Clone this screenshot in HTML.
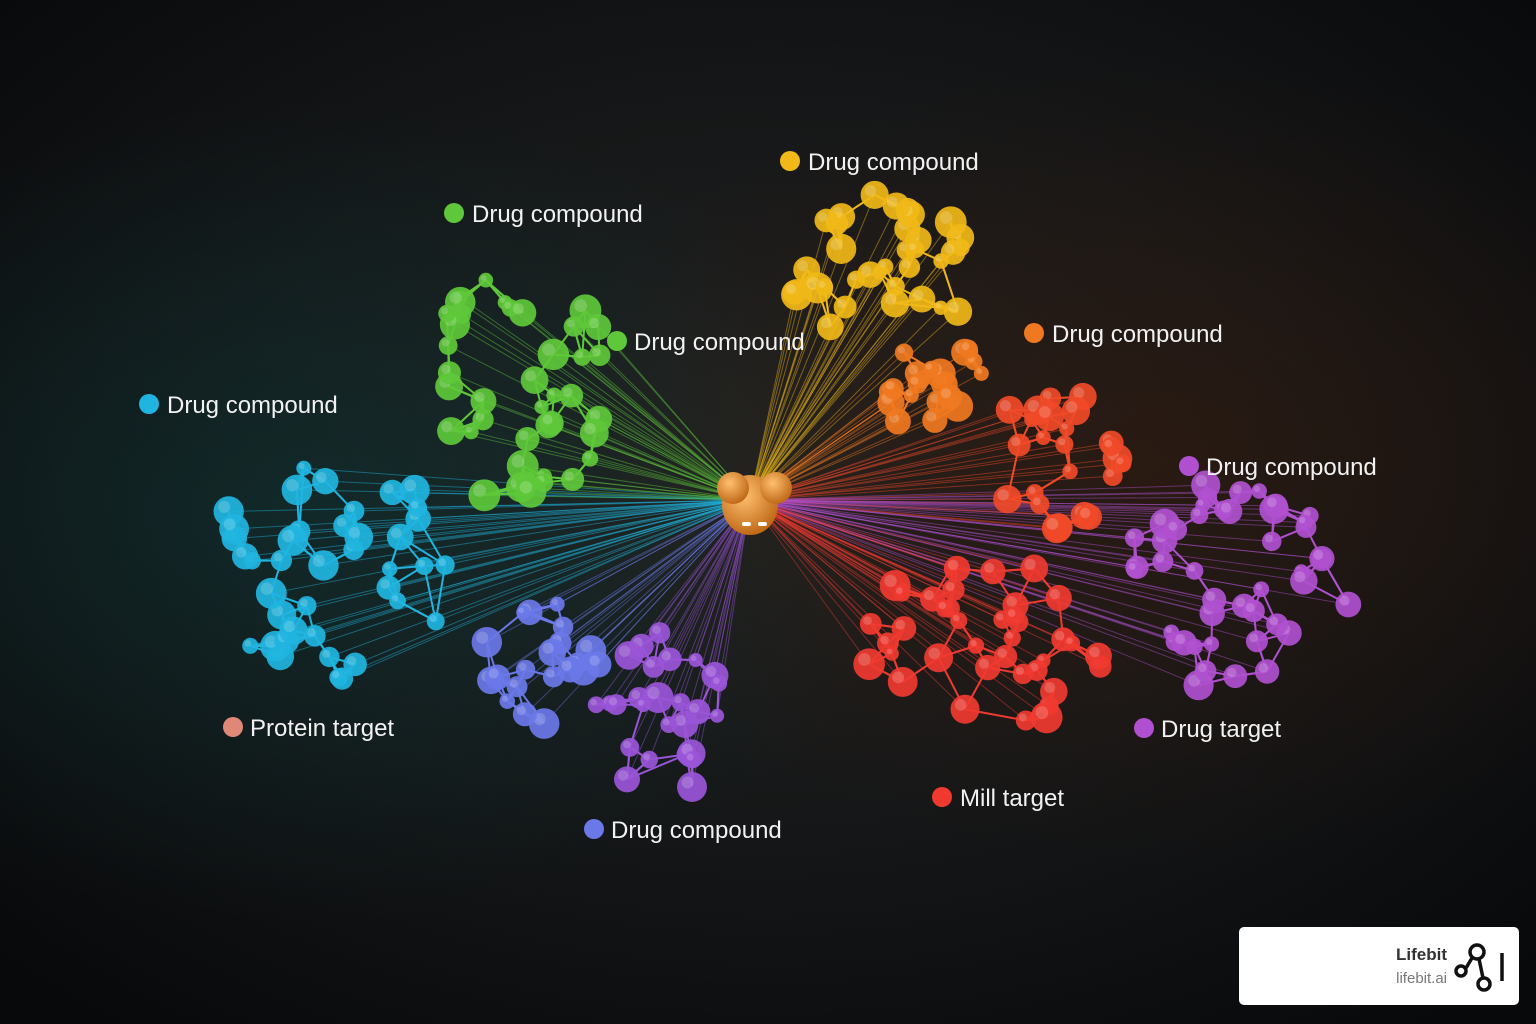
<!DOCTYPE html>
<html><head><meta charset="utf-8"><style>
html,body{margin:0;padding:0;width:1536px;height:1024px;overflow:hidden;background:#0c0f12;}
svg{display:block}
.lbl{font-family:"Liberation Sans",sans-serif;font-size:24px;fill:#f2f2f2;}
</style></head><body>
<svg id="s" width="1536" height="1024" xmlns="http://www.w3.org/2000/svg">
<defs>
<radialGradient id="bg" cx="50%" cy="45%" r="70%">
<stop offset="0" stop-color="#222120"/><stop offset="0.5" stop-color="#151718"/><stop offset="1" stop-color="#08090b"/>
</radialGradient>
<radialGradient id="tint1" cx="20%" cy="50%" r="40%"><stop offset="0" stop-color="#0d3a3a" stop-opacity="0.5"/><stop offset="1" stop-color="#0d3a3a" stop-opacity="0"/></radialGradient>
<radialGradient id="tint2" cx="75%" cy="45%" r="40%"><stop offset="0" stop-color="#3a1a0a" stop-opacity="0.5"/><stop offset="1" stop-color="#3a1a0a" stop-opacity="0"/></radialGradient>
<radialGradient id="core" cx="40%" cy="35%" r="65%"><stop offset="0" stop-color="#ffc070"/><stop offset="1" stop-color="#c06a18"/></radialGradient>
</defs>
<rect width="1536" height="1024" fill="url(#bg)"/>
<rect width="1536" height="1024" fill="url(#tint1)"/>
<rect width="1536" height="1024" fill="url(#tint2)"/>
<g id="fan"></g>
<g id="net"></g>
<g>
<ellipse cx="750" cy="505" rx="28" ry="30" fill="url(#core)"/>
<circle cx="733" cy="488" r="16" fill="url(#core)"/>
<circle cx="776" cy="488" r="16" fill="url(#core)"/>
<rect x="742" y="522" width="9" height="4" fill="#fff" rx="2"/><rect x="758" y="522" width="9" height="4" fill="#fff" rx="2"/>
</g>
<g>
<circle cx="790" cy="161" r="10" fill="#f0b818"/><text class="lbl" x="808" y="170">Drug compound</text>
<circle cx="454" cy="213" r="10" fill="#5ec83a"/><text class="lbl" x="472" y="222">Drug compound</text>
<circle cx="617" cy="341" r="10" fill="#5ec83a"/><text class="lbl" x="634" y="350">Drug compound</text>
<circle cx="1034" cy="333" r="10" fill="#f07820"/><text class="lbl" x="1052" y="342">Drug compound</text>
<circle cx="149" cy="404" r="10" fill="#1fb5e0"/><text class="lbl" x="167" y="413">Drug compound</text>
<circle cx="1189" cy="466" r="10" fill="#b050d0"/><text class="lbl" x="1206" y="475">Drug compound</text>
<circle cx="233" cy="727" r="10" fill="#e08878"/><text class="lbl" x="250" y="736">Protein target</text>
<circle cx="1144" cy="728" r="10" fill="#b050d0"/><text class="lbl" x="1161" y="737">Drug target</text>
<circle cx="942" cy="797" r="10" fill="#f03a30"/><text class="lbl" x="960" y="806">Mill target</text>
<circle cx="594" cy="829" r="10" fill="#6a78e8"/><text class="lbl" x="611" y="838">Drug compound</text>
</g>
<g>
<rect x="1239" y="927" width="280" height="78" rx="5" fill="#fff"/>
<text x="1447" y="960" text-anchor="end" font-family="Liberation Sans,sans-serif" font-weight="bold" font-size="17" fill="#333">Lifebit</text>
<text x="1447" y="983" text-anchor="end" font-family="Liberation Sans,sans-serif" font-size="15" fill="#777">lifebit.ai</text>
<g stroke="#111" stroke-width="3.5" fill="none">
<circle cx="1477" cy="952" r="7"/><circle cx="1461" cy="971" r="5"/><circle cx="1484" cy="984" r="6"/>
<line x1="1466" y1="968" x2="1472" y2="958"/><line x1="1479" y1="959" x2="1483" y2="978"/>
<line x1="1502" y1="953" x2="1502" y2="981"/>
</g>
</g>
</svg>
<script>
var seed=7;function r(){seed=(seed*16807)%2147483647;return (seed-1)/2147483646;}
var NS="http://www.w3.org/2000/svg";
function el(p,n,a){var e=document.createElementNS(NS,n);for(var k in a)e.setAttribute(k,a[k]);p.appendChild(e);return e;}
var fan=document.getElementById('fan'),net=document.getElementById('net');
var C=[
[330,565,120,120,'#1fb5e0',40],
[520,385,95,120,'#5ec83a',40],
[882,268,100,75,'#f0b818',34],
[935,392,50,60,'#f07820',20],
[1058,458,65,75,'#f04a28',24],
[1238,590,120,110,'#b050d0',44],
[980,645,125,90,'#f03a30',40],
[540,660,60,65,'#6a78e8',20],
[665,710,70,85,'#9a55d8',26]];
C.forEach(function(c){
 var pts=[];
 for(var i=0;i<c[5];i++){var a=r()*6.283,d=Math.sqrt(r());pts.push([c[0]+Math.cos(a)*d*c[2],c[1]+Math.sin(a)*d*c[3],7+r()*9]);}
 for(var i=0;i<pts.length;i+=1){el(fan,'line',{x1:750,y1:500,x2:pts[i][0],y2:pts[i][1],stroke:c[4],'stroke-width':1,'stroke-opacity':0.45});}
 var g=el(net,'g',{});
 pts.forEach(function(p,i){
  var ds=pts.map(function(q,j){return [Math.hypot(q[0]-p[0],q[1]-p[1]),j];}).sort(function(a,b){return a[0]-b[0];});
  for(var k=1;k<4&&k<ds.length;k++){var q=pts[ds[k][1]];el(g,'line',{x1:p[0],y1:p[1],x2:q[0],y2:q[1],stroke:c[4],'stroke-width':2});}
 });
 pts.forEach(function(p){el(g,'circle',{cx:p[0],cy:p[1],r:p[2],fill:c[4],'fill-opacity':0.92});
  el(g,'circle',{cx:p[0]-p[2]*0.3,cy:p[1]-p[2]*0.3,r:p[2]*0.4,fill:'#fff','fill-opacity':0.18});});
});
</script>
</body></html>
